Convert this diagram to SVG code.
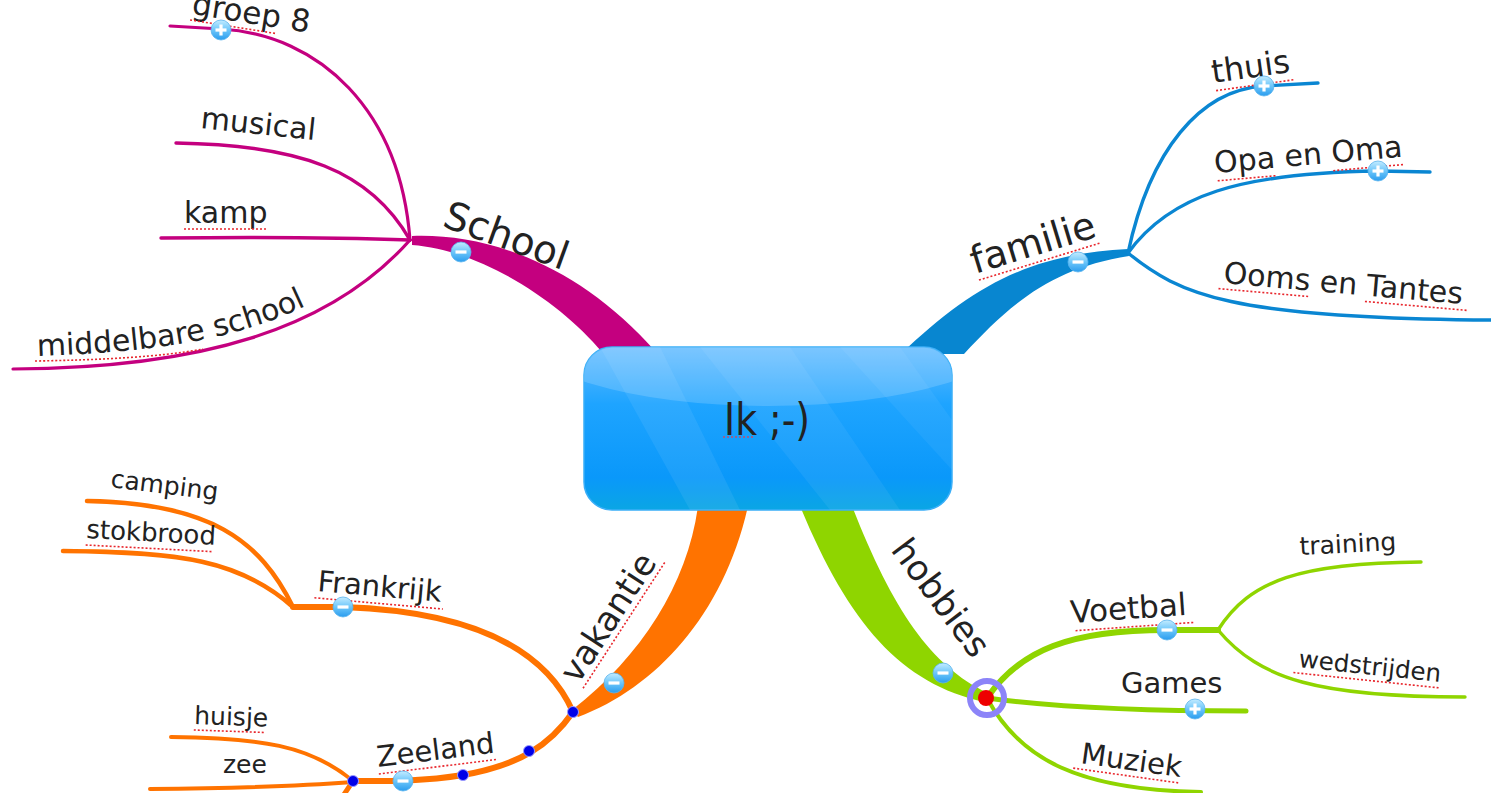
<svg xmlns="http://www.w3.org/2000/svg" xmlns:xlink="http://www.w3.org/1999/xlink" width="1491" height="793" viewBox="0 0 1491 793">
  <style>
    .t { font-family: "DejaVu Sans", "Liberation Sans", sans-serif; fill: #222; }
    .sp { fill: none; stroke: #e8262c; stroke-width: 1.6; stroke-dasharray: 2 2; }
    .mag { fill: none; stroke: #c4007f; stroke-linecap: round; }
    .blu { fill: none; stroke: #0a86d2; stroke-linecap: round; }
    .org { fill: none; stroke: #ff7300; stroke-linecap: round; }
    .grn { fill: none; stroke: #8fd500; stroke-linecap: round; }
    .dot { fill: #0000e8; stroke: #9a9aff; stroke-width: 1; }
    .btn-sym { fill: #fff; }
  </style>
  <defs>
    <linearGradient id="nodeFill" x1="0" y1="0" x2="0" y2="1">
      <stop offset="0" stop-color="#62bbff"/>
      <stop offset="0.35" stop-color="#1ea4ff"/>
      <stop offset="0.8" stop-color="#0a98fa"/>
      <stop offset="1" stop-color="#0aa6e4"/>
    </linearGradient>
    <linearGradient id="btnFill" x1="0" y1="0" x2="0" y2="1">
      <stop offset="0" stop-color="#c4ecff"/>
      <stop offset="0.5" stop-color="#6cc6fa"/>
      <stop offset="1" stop-color="#2a9cee"/>
    </linearGradient>
    <clipPath id="nodeClip">
      <rect x="584" y="347" width="368" height="163" rx="28"/>
    </clipPath>
    <g id="btnMinus">
      <circle r="10" fill="url(#btnFill)" stroke="#5ab4ee" stroke-width="0.8"/>
      <rect x="-5.5" y="-1.6" width="11" height="3.2" class="btn-sym"/>
    </g>
    <g id="btnPlus">
      <circle r="10" fill="url(#btnFill)" stroke="#5ab4ee" stroke-width="0.8"/>
      <rect x="-5.5" y="-1.6" width="11" height="3.2" class="btn-sym"/>
      <rect x="-1.6" y="-5.5" width="3.2" height="11" class="btn-sym"/>
    </g>
    <path id="mbsPath" d="M37,356 C150,352 230,342 308,305"/>
  </defs>

  <rect width="1491" height="793" fill="#fff"/>

  <!-- connectors -->
  <g id="connectors">
    <!-- School (magenta) -->
    <path d="M412,236 C492,233 582,268 656,352 L602,352 C560,302 482,250 412,245 Z" fill="#c4007f"/>
    <path class="mag" stroke-width="3.2" d="M410,240 C400,110 320,35 221,29 L170,26"/>
    <path class="mag" stroke-width="3.4" d="M410,240 C370,170 300,145 176,143"/>
    <path class="mag" stroke-width="3.4" d="M410,240 C330,237 250,237 161,238"/>
    <path class="mag" stroke-width="3.2" d="M410,240 C330,330 200,368 13,369"/>

    <!-- familie (blue) -->
    <path d="M901,354 C970,288 1028,254 1128,249 L1129,256 C1052,268 1010,304 964,354 Z" fill="#0886d0"/>
    <path class="blu" stroke-width="3.4" d="M1128,253 C1150,150 1200,90 1264,86 L1318,83"/>
    <path class="blu" stroke-width="3.4" d="M1128,253 C1170,195 1240,173 1378,171 L1430,172"/>
    <path class="blu" stroke-width="3.4" d="M1128,253 C1180,295 1230,318 1491,320"/>

    <!-- vakantie (orange) -->
    <path d="M698,506 C688,582 642,656 572,710 L578,717 C656,688 724,614 748,506 Z" fill="#ff7300"/>
    <path class="org" stroke-width="6" d="M573,712 C550,660 490,612 343,607 L293,607"/>
    <path class="org" stroke-width="4.5" d="M293,607 C260,540 210,503 87,501"/>
    <path class="org" stroke-width="4.5" d="M293,607 C240,560 180,552 63,551"/>
    <path class="org" stroke-width="6" d="M573,712 C550,745 520,765 463,775 C420,782 380,781 353,781"/>
    <path class="org" stroke-width="4" d="M353,781 C310,745 260,738 171,737"/>
    <path class="org" stroke-width="4" d="M353,782 C300,786 250,788 150,789"/>
    <path class="org" stroke-width="5" d="M353,781 L343,796"/>

    <!-- hobbies (green) -->
    <path d="M800,506 C848,622 900,684 985,702 L988,693 C930,666 892,608 852,506 Z" fill="#8fd500"/>
    <path class="grn" stroke-width="6" d="M987,698 C1020,650 1070,630 1167,630 L1218,630"/>
    <path class="grn" stroke-width="3.4" d="M1218,630 C1250,580 1300,563 1421,562"/>
    <path class="grn" stroke-width="3.4" d="M1218,630 C1260,680 1320,697 1465,697"/>
    <path class="grn" stroke-width="5" d="M987,698 C1060,708 1150,711 1246,711"/>
    <path class="grn" stroke-width="4" d="M987,698 C1020,760 1080,790 1201,792"/>

    <!-- path markers -->
    <circle class="dot" cx="573" cy="712" r="5.5"/>
    <circle class="dot" cx="529" cy="751" r="5.5"/>
    <circle class="dot" cx="463" cy="775" r="5.5"/>
    <circle class="dot" cx="353" cy="781" r="5.5"/>
  </g>

  <!-- central topic -->
  <g id="node-ik">
    <rect x="584" y="347" width="368" height="163" rx="28" fill="url(#nodeFill)" stroke="#3aaef8" stroke-width="1.5"/>
    <g clip-path="url(#nodeClip)">
      <polygon points="600,347 660,347 740,510 690,510" fill="#fff" opacity="0.07"/>
      <polygon points="700,347 790,347 900,510 830,510" fill="#fff" opacity="0.06"/>
      <polygon points="840,347 900,347 952,420 952,470" fill="#fff" opacity="0.05"/>
      <ellipse cx="768" cy="330" rx="250" ry="76" fill="#fff" opacity="0.16"/>
    </g>
    <text class="t" x="724" y="435" font-size="44" textLength="86" lengthAdjust="spacingAndGlyphs">Ik ;-)</text>
    <line x1="723" y1="437" x2="755" y2="437" stroke="#c0506e" stroke-width="1.6" stroke-dasharray="2 2"/>
  </g>

  <!-- School -->
  <g id="node-school">
    <text class="t" font-size="39" transform="translate(441,226) rotate(20)">School</text>
    <use href="#btnMinus" x="461" y="252"/>
  </g>
  <g id="node-groep8">
    <g transform="translate(191,14) rotate(9)">
      <text class="t" font-size="31">groep 8</text>
      <line class="sp" x1="0" y1="6" x2="88" y2="6"/>
    </g>
    <use href="#btnPlus" x="221" y="30"/>
  </g>
  <g id="node-musical">
    <text class="t" font-size="30" transform="translate(200,128) rotate(6)">musical</text>
  </g>
  <g id="node-kamp">
    <text class="t" font-size="30" x="184" y="223">kamp</text>
    <line class="sp" x1="184" y1="229" x2="268" y2="229"/>
  </g>
  <g id="node-middelbare">
    <text class="t" font-size="30"><textPath href="#mbsPath">middelbare school</textPath></text>
    <path class="sp" d="M35,361 C100,360 160,357 203,349"/>
  </g>

  <!-- familie -->
  <g id="node-familie">
    <g transform="translate(975,274) rotate(-17)">
      <text class="t" font-size="38">familie</text>
      <line class="sp" x1="2" y1="7" x2="128" y2="7"/>
    </g>
    <use href="#btnMinus" x="1078" y="262"/>
  </g>
  <g id="node-thuis">
    <g transform="translate(1213,83) rotate(-8)">
      <text class="t" font-size="32">thuis</text>
      <line class="sp" x1="2" y1="8" x2="80" y2="8"/>
    </g>
    <use href="#btnPlus" x="1264" y="86"/>
  </g>
  <g id="node-opa">
    <g transform="translate(1215,173) rotate(-5)">
      <text class="t" font-size="30">Opa en Oma</text>
      <line class="sp" x1="2" y1="8" x2="61" y2="8"/>
      <line class="sp" x1="118" y1="8" x2="189" y2="8"/>
    </g>
    <use href="#btnPlus" x="1378" y="171"/>
  </g>
  <g id="node-ooms">
    <g transform="translate(1223,283) rotate(5)">
      <text class="t" font-size="30">Ooms en Tantes</text>
      <line class="sp" x1="-4" y1="6" x2="87" y2="6"/>
      <line class="sp" x1="143" y1="6" x2="246" y2="6"/>
    </g>
  </g>

  <!-- vakantie -->
  <g id="node-vakantie">
    <g transform="translate(578,685) rotate(-57)">
      <text class="t" font-size="34">vakantie</text>
      <line class="sp" x1="0" y1="6" x2="150" y2="6"/>
    </g>
    <use href="#btnMinus" x="614" y="683"/>
  </g>
  <g id="node-frankrijk">
    <g transform="translate(317,591) rotate(5)">
      <text class="t" font-size="29">Frankrijk</text>
      <line class="sp" x1="-2" y1="7" x2="127" y2="7"/>
    </g>
    <use href="#btnMinus" x="343" y="607"/>
  </g>
  <g id="node-camping">
    <text class="t" font-size="25" transform="translate(110,487) rotate(7)">camping</text>
  </g>
  <g id="node-stokbrood">
    <g transform="translate(86,538) rotate(3)">
      <text class="t" font-size="26">stokbrood</text>
      <line class="sp" x1="0" y1="7" x2="128" y2="7"/>
    </g>
  </g>
  <g id="node-zeeland">
    <g transform="translate(378,767) rotate(-7)">
      <text class="t" font-size="29">Zeeland</text>
      <line class="sp" x1="0" y1="7" x2="118" y2="7"/>
    </g>
    <use href="#btnMinus" x="403" y="781"/>
  </g>
  <g id="node-huisje">
    <g transform="translate(194,724) rotate(2)">
      <text class="t" font-size="25">huisje</text>
      <line class="sp" x1="0" y1="6" x2="72" y2="6"/>
    </g>
  </g>
  <g id="node-zee">
    <text class="t" font-size="25" x="223" y="773">zee</text>
  </g>

  <!-- hobbies -->
  <g id="node-hobbies">
    <text class="t" font-size="35" transform="translate(890,550) rotate(53)">hobbies</text>
    <use href="#btnMinus" x="943" y="673"/>
    <circle cx="987" cy="698" r="17" fill="none" stroke="#8c84f8" stroke-width="6"/>
    <circle cx="986" cy="698" r="8" fill="#ee0000"/>
  </g>
  <g id="node-voetbal">
    <g transform="translate(1071,623) rotate(-4)">
      <text class="t" font-size="31">Voetbal</text>
      <line class="sp" x1="4" y1="8" x2="122" y2="8"/>
    </g>
    <use href="#btnMinus" x="1167" y="630"/>
  </g>
  <g id="node-training">
    <text class="t" font-size="25" transform="translate(1300,555) rotate(-3)">training</text>
  </g>
  <g id="node-wedstrijden">
    <g transform="translate(1298,667) rotate(6)">
      <text class="t" font-size="24.5">wedstrijden</text>
      <line class="sp" x1="-4" y1="6" x2="143" y2="6"/>
    </g>
  </g>
  <g id="node-games">
    <text class="t" font-size="29" x="1121" y="693">Games</text>
    <use href="#btnPlus" x="1195" y="709"/>
  </g>
  <g id="node-muziek">
    <g transform="translate(1080,763) rotate(8)">
      <text class="t" font-size="29">Muziek</text>
      <line class="sp" x1="-6" y1="6" x2="101" y2="6"/>
    </g>
  </g>
</svg>
